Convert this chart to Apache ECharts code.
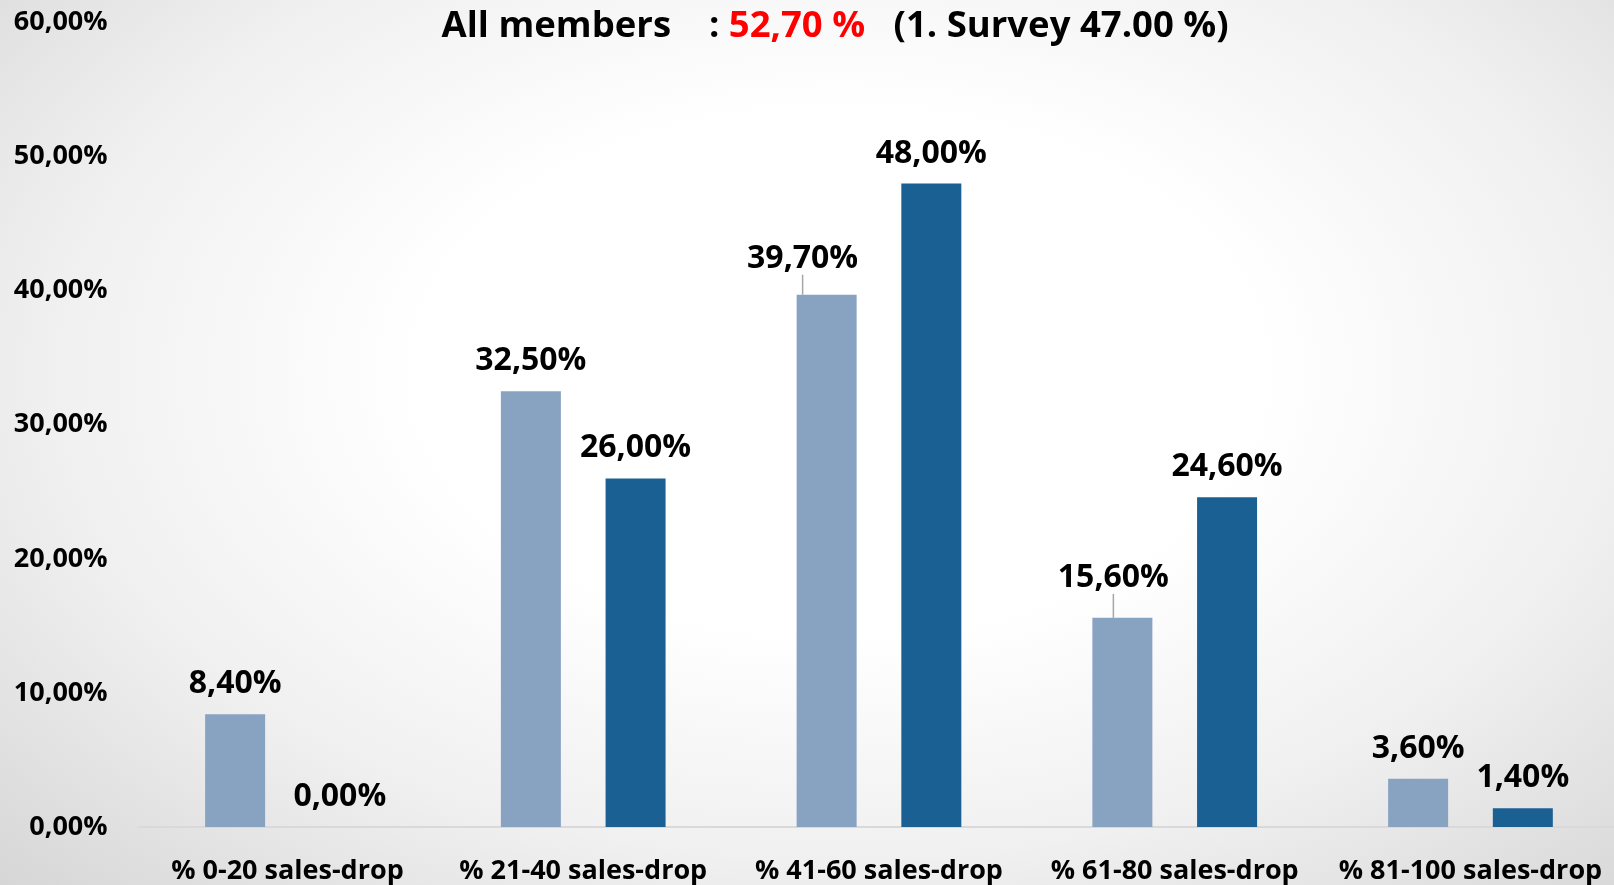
<!DOCTYPE html>
<html>
<head>
<meta charset="utf-8">
<script src="https://cdn.jsdelivr.net/npm/echarts@6/dist/echarts.min.js"></script>
<style>
html,body{margin:0;padding:0;width:1614px;height:885px;overflow:hidden;
background: radial-gradient(ellipse 75% 85% at 52% 42%, #ffffff 0%, #ffffff 35%, #f0f0f0 65%, #d4d4d4 100%);}
#chart{width:1620px;height:885px;}
</style>
</head>
<body>
<div id="chart"></div>
<script>
var categories = ['% 0-20 sales-drop', '% 21-40 sales-drop', '% 41-60 sales-drop', '% 61-80 sales-drop', '% 81-100 sales-drop'];
var currentSurvey = [8.4, 32.5, 39.7, 15.6, 3.6];
var firstSurvey = [0.0, 26.0, 48.0, 24.6, 1.4];
var yTicks = [0, 10, 20, 30, 40, 50, 60];
var titleParts = ['All members', ':', '52,70 %', '(1. Survey 47.00 %)'];

var FONT = '"Open Sans", "Noto Sans", sans-serif';
function pct(v){ return v.toFixed(2).replace('.', ',') + '%'; }

var chart = echarts.init(document.getElementById('chart'), null, {renderer:'canvas'});
var labelShift = {
  '0-2': {dx: -24, dy: -6},
  '0-3': {dx: -9, dy: -10}
};
var currentData = currentSurvey.map(function(v, i){
  return {value: v, labelLine: {show: !!labelShift['0-' + i]}};
});
var option = {
  backgroundColor: 'transparent',
  animation: false,
  title: {
    left: 830, top: 3, textAlign: 'center',
    text: '{a|' + titleParts[0] + '}{s|    }{a|' + titleParts[1] + ' }{r|' + titleParts[2] + '}{a|   ' + titleParts[3] + '}',
    textStyle: {
      rich: {
        a: {fontFamily: FONT, fontWeight: 'bold', fontSize: 36.5, color: '#000'},
        s: {fontFamily: FONT, fontWeight: 'bold', fontSize: 36.5, color: '#000'},
        r: {fontFamily: FONT, fontWeight: 'bold', fontSize: 36.5, color: '#ff0000'}
      }
    }
  },
  grid: {left: 139.6, right: 1.65, top: 22.5, height: 805.2, containLabel: false},
  xAxis: {
    type: 'category',
    data: categories,
    axisLine: {show: true, lineStyle: {color: '#d9d9d9', width: 2}},
    axisTick: {show: false},
    axisLabel: {margin: 31, fontFamily: FONT, fontWeight: 'bold', fontSize: 27, color: '#000', interval: 0}
  },
  yAxis: {
    type: 'value',
    min: yTicks[0], max: yTicks[yTicks.length - 1], interval: 10,
    axisLine: {show: false},
    axisTick: {show: false},
    splitLine: {show: false},
    axisLabel: {margin: 32, fontFamily: FONT, fontWeight: 'bold', fontSize: 27, color: '#000',
      formatter: function(v){ return pct(v); }}
  },
  series: [
    {
      name: 'Current survey', type: 'bar', data: currentData,
      barWidth: 60, barGap: '74.5%',
      itemStyle: {color: '#88a2c2'},
      label: {show: true, position: 'top', distance: 14, fontFamily: FONT, fontWeight: 'bold', fontSize: 32, color: '#000',
        formatter: function(p){ return pct(p.value); }},
      labelLine: {show: false, lineStyle: {color: '#a6a6a6', width: 1.5}},
      labelLayout: function(p){
        var s = labelShift[p.seriesIndex + '-' + p.dataIndex];
        return s ? {dx: s.dx, dy: s.dy} : {};
      }
    },
    {
      name: '1. Survey', type: 'bar', data: firstSurvey,
      barWidth: 60, barGap: '74.5%',
      itemStyle: {color: '#1b6093'},
      label: {show: true, position: 'top', distance: 14, fontFamily: FONT, fontWeight: 'bold', fontSize: 32, color: '#000',
        formatter: function(p){ return pct(p.value); }}
    }
  ]
};
chart.setOption(option);
</script>
</body>
</html>
